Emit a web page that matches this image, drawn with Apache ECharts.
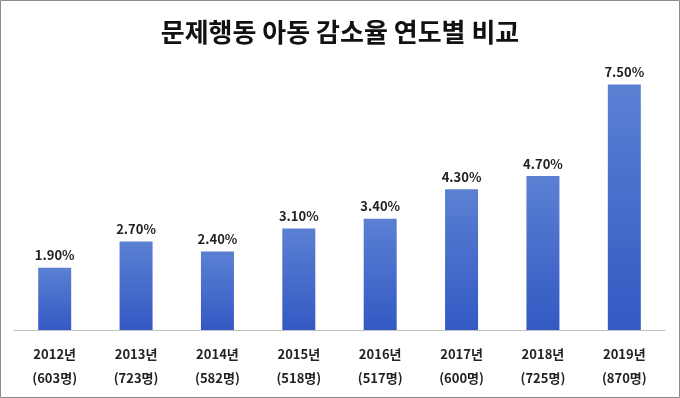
<!DOCTYPE html>
<html><head><meta charset="utf-8">
<script src="https://cdn.jsdelivr.net/npm/echarts@6/dist/echarts.min.js"></script>
<style>html,body{margin:0;padding:0;background:#fff}#c{width:680px;height:398px}</style>
</head><body><div id="c"></div>
<script>
const years = ['2012년','2013년','2014년','2015년','2016년','2017년','2018년','2019년'];
const counts = ['603명','723명','582명','518명','517명','600명','725명','870명'];
const rates = [1.9, 2.7, 2.4, 3.1, 3.4, 4.3, 4.7, 7.5];
const titleText = '문제행동 아동 감소율 연도별 비교';

const font = '"Noto Sans CJK KR", "Noto Sans", sans-serif';
const chart = echarts.init(document.getElementById('c'));
chart.setOption({
  animation: false,
  backgroundColor: '#fff',
  graphic: [{type:'rect', shape:{x:0.5,y:0.5,width:679,height:397}, style:{fill:'none', stroke:'#8c8c8c', lineWidth:1}, z:100}],
  title: {text: titleText, left: 'center', top: 14, textStyle:{fontFamily: font, fontSize: 26, fontWeight: 'bold', color:'#111'}},
  grid: {left: 14, right: 15, top: 68, bottom: 68, containLabel: false},
  xAxis: {
    type: 'category',
    data: years.map((y,i)=> y + '\n(' + counts[i] + ')'),
    axisLine: {lineStyle:{color:'#bfbfbf', width:1}},
    axisTick: {show:false},
    axisLabel: {fontFamily: font, fontSize: 13, fontWeight:'bold', color:'#222', lineHeight: 24, margin: 12, interval: 0}
  },
  yAxis: {type:'value', min:0, max:8, show:false, splitLine:{show:false}},
  series: [{
    type:'bar',
    data: rates,
    barWidth: 33,
    itemStyle: {color: new echarts.graphic.LinearGradient(0,0,0,1,[{offset:0,color:'#5b80d3'},{offset:1,color:'#3459c3'}])},
    label: {show:true, position:'top', distance: 6, formatter: p => p.value.toFixed(2)+'%', fontFamily: font, fontSize: 13, fontWeight:'bold', color:'#222'}
  }]
});
</script></body></html>
